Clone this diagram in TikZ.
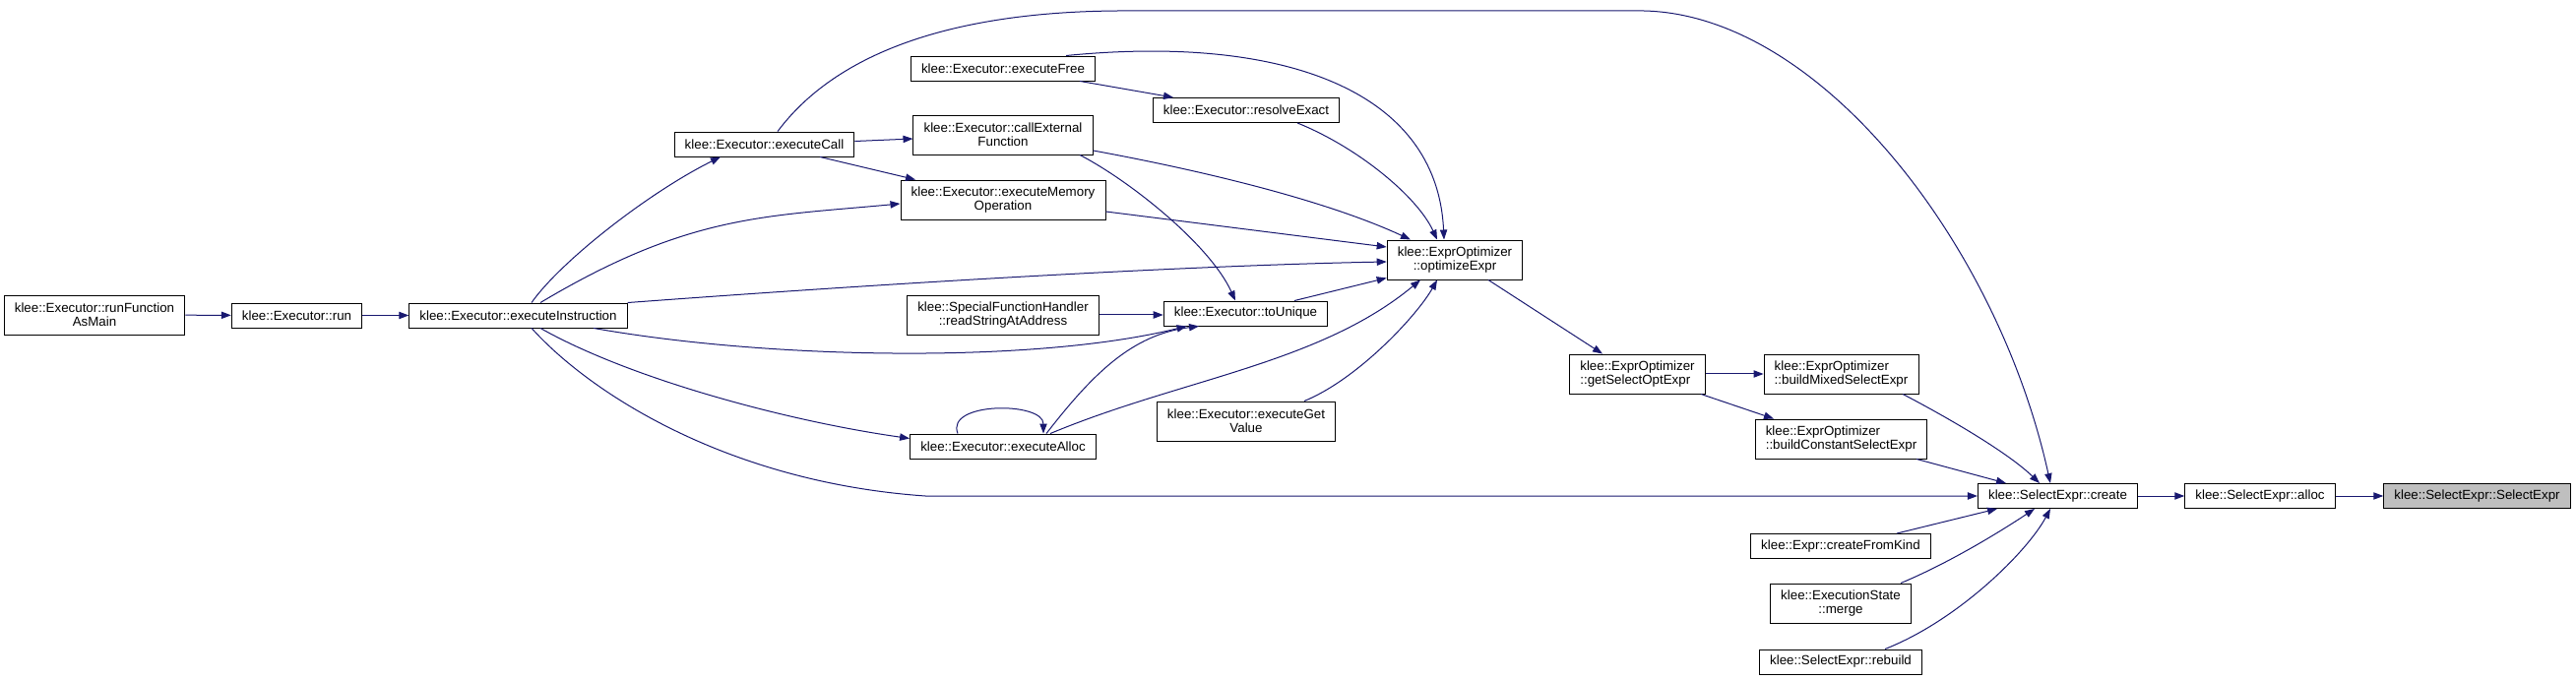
\documentclass[tikz,border=0pt]{standalone}
\usepackage{fontspec}
\setmainfont{Liberation Sans}
\usetikzlibrary{arrows.meta, calc}
\definecolor{edgeblue}{RGB}{25, 25, 112}
\definecolor{focusgray}{RGB}{191, 191, 191}

\begin{document}
\begin{tikzpicture}[x=0.75pt, y=-0.75pt,
  fn/.style={draw=black, fill=white, line width=0.7pt, inner xsep=8pt, inner ysep=0pt,
             minimum height=18.75pt, align=center, font=\fontsize{10pt}{10.5pt}\selectfont},
  fntwo/.style={fn, minimum height=30pt},
  fnleft/.style={fntwo, align=left},
  focus/.style={fn, fill=focusgray},
  call/.style={draw=edgeblue, line width=0.75pt, -{Triangle[length=7.5pt, width=5.5pt]}}]
  \fill[white] (0,0) rectangle (2617,691);
  \useasboundingbox (0,0) rectangle (2617,691);

  \node[fntwo] (rfam) at (96,320) {klee::Executor::runFunction\\AsMain};
  \node[fn] (run) at (301.5,320.5) {klee::Executor::run};
  \node[fn] (ei) at (526.5,320.5) {klee::Executor::executeInstruction};
  \node[fn] (ec) at (776.5,146.5) {klee::Executor::executeCall};
  \node[fn] (ef) at (1019,69.5) {klee::Executor::executeFree};
  \node[fntwo] (cef) at (1019,137) {klee::Executor::callExternal\\Function};
  \node[fntwo] (emo) at (1019,203) {klee::Executor::executeMemory\\Operation};
  \node[fntwo] (rs) at (1019,320) {klee::SpecialFunctionHandler\\::readStringAtAddress};
  \node[fn] (ea) at (1019,453.5) {klee::Executor::executeAlloc};
  \node[fn] (re) at (1266,112) {klee::Executor::resolveExact};
  \node[fn] (tu) at (1265.5,318.5) {klee::Executor::toUnique};
  \node[fntwo] (egv) at (1266,428) {klee::Executor::executeGet\\Value};
  \node[fntwo] (oe) at (1478,264) {klee::ExprOptimizer\\::optimizeExpr};
  \node[fnleft] (gso) at (1663.5,380) {klee::ExprOptimizer\\::getSelectOptExpr};
  \node[fnleft] (bms) at (1870.5,380) {klee::ExprOptimizer\\::buildMixedSelectExpr};
  \node[fnleft] (bcs) at (1870.5,446) {klee::ExprOptimizer\\::buildConstantSelectExpr};
  \node[fn] (cfk) at (1870,555) {klee::Expr::createFromKind};
  \node[fntwo] (mg) at (1870,613) {klee::ExecutionState\\::merge};
  \node[fn] (rb) at (1870,672.5) {klee::SelectExpr::rebuild};
  \node[fn] (cr) at (2090.5,504) {klee::SelectExpr::create};
  \node[fn] (al) at (2296,504) {klee::SelectExpr::alloc};
  \node[focus] (se) at (2516.5,504) {klee::SelectExpr::SelectExpr};

  % callers of executeInstruction's callees
  \draw[call] (rfam) -- (run);
  \draw[call] (run) -- (ei);
  \draw[call] ($(ei.north)+(13.5,0)$) .. controls (570,265) and (660,195) .. ($(ec.south)+(-44.5,0)$);
  \draw[call] ($(ei.north)+(22.5,0)$) .. controls (699,218) and (776,220) .. ($(emo.west)+(0,4)$);
  \draw[call] (ei.north east) .. controls (900,288) and (1200,270) .. ($(oe.west)+(0,2)$);
  \draw[call] ($(ei.south)+(76.5,0)$) .. controls (780,365) and (1050,370) .. ($(tu.south)+(-60,0)$);
  \draw[call] ($(ei.south)+(22.5,0)$) .. controls (640,385) and (800,428) .. ($(ea.west)+(0,-8)$);
  \draw[call] ($(ei.south)+(13.5,0)$) .. controls (600,400) and (740,490) .. (940,504) -- (cr.west);
  \draw[call] ($(ec.north)+(13.5,0)$) .. controls (860,40) and (1000,10) .. (1150,11) -- (1670,11)
    .. controls (1850,15) and (2030,250) .. ($(cr.north)+(-7.5,0)$);
  \draw[call] ($(ec.east)+(0,-3)$) -- ($(cef.west)+(0,4)$);
  \draw[call] ($(ec.south)+(56.5,0)$) -- ($(emo.north)+(-89,0)$);
  \draw[call] ($(ef.south)+(78,0)$) -- ($(re.north)+(-74,0)$);
  \draw[call] ($(ef.north)+(64,0)$) .. controls (1300,35) and (1460,90) .. ($(oe.north)+(-11,0)$);
  \draw[call] ($(re.south)+(52,0)$) .. controls (1380,150) and (1440,200) .. ($(oe.north)+(-18,0)$);
  \draw[call] ($(cef.east)+(0,16)$) .. controls (1230,175) and (1350,205) .. ($(oe.north)+(-45,0)$);
  \draw[call] ($(cef.south)+(78,0)$) .. controls (1150,185) and (1230,250) .. ($(tu.north)+(-10.5,0)$);
  \draw[call] ($(emo.east)+(0,12)$) -- ($(oe.west)+(0,-13)$);
  \draw[call] (rs.east) -- (rs.east -| tu.west);
  \draw[call] ($(tu.north)+(49.5,0)$) -- ($(oe.south west)+(0,-2)$);
  \draw[call] ($(ea.north)+(44,0)$) .. controls (1110,380) and (1150,340) .. ($(tu.south)+(-47.5,0)$);
  \draw[call] ($(ea.north)+(48,0)$) .. controls (1200,385) and (1340,370) .. ($(oe.south)+(-35,0)$);
  \draw[call] ($(ea.north)+(-46,0)$) .. controls (960,408) and (1060,408) .. ($(ea.north)+(41,0)$);
  \draw[call] ($(egv.north)+(59,0)$) .. controls (1380,385) and (1440,320) .. ($(oe.south)+(-18,0)$);

  % optimizer down to the constructor
  \draw[call] ($(oe.south)+(34,0)$) -- ($(gso.north)+(-35.5,0)$);
  \draw[call] (gso) -- (bms);
  \draw[call] ($(gso.south)+(64.5,0)$) -- ($(bcs.north)+(-68.5,0)$);
  \draw[call] ($(bms.south)+(62.5,0)$) .. controls (1980,425) and (2040,460) .. ($(cr.north)+(-18.5,0)$);
  \draw[call] ($(bcs.south)+(76.5,0)$) -- ($(cr.north)+(-52.5,0)$);
  \draw[call] ($(cfk.north)+(57,0)$) -- ($(cr.south)+(-61.5,0)$);
  \draw[call] ($(mg.north)+(61,0)$) .. controls (1985,570) and (2040,535) .. ($(cr.south)+(-23.5,0)$);
  \draw[call] ($(rb.north)+(45,0)$) .. controls (1990,630) and (2060,560) .. ($(cr.south)+(-7.5,0)$);
  \draw[call] (cr) -- (al);
  \draw[call] (al) -- (se);
\end{tikzpicture}
\end{document}
